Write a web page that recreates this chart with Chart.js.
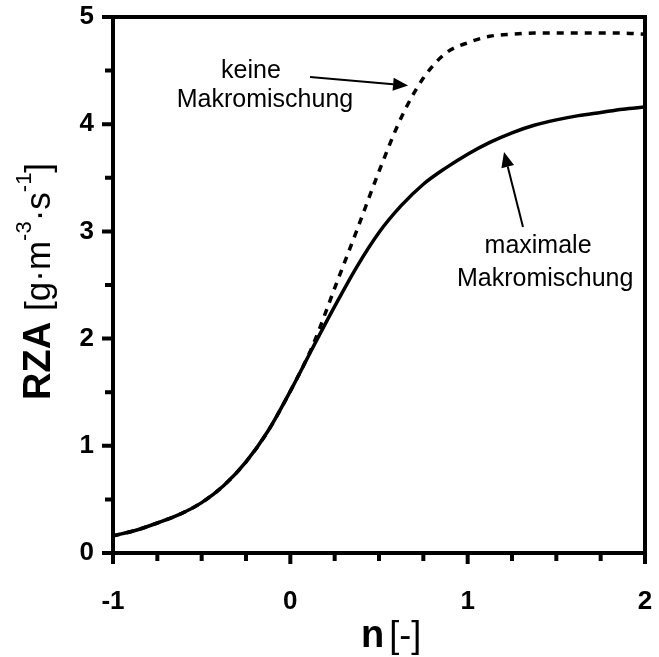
<!DOCTYPE html>
<html><head><meta charset="utf-8">
<script src="https://cdn.jsdelivr.net/npm/chart.js@4.4.0/dist/chart.umd.min.js"></script>
<style>html,body{margin:0;padding:0;background:#fff;overflow:hidden}</style>
</head><body>
<canvas id="c" width="659" height="657" style="display:block;width:659px;height:657px"></canvas>
<script>
// ---- data ----
const nValues      = [-1, -0.875, -0.75, -0.625, -0.5, -0.375, -0.25, -0.125, 0, 0.125, 0.25, 0.375, 0.5, 0.625, 0.75, 0.875, 1, 1.125, 1.25, 1.375, 1.5, 1.625, 1.75, 1.875, 2];
const rzaMaximale  = [0.16, 0.21, 0.28, 0.36, 0.47, 0.63, 0.85, 1.14, 1.51, 1.91, 2.30, 2.67, 2.99, 3.24, 3.44, 3.59, 3.72, 3.83, 3.92, 3.99, 4.04, 4.08, 4.11, 4.14, 4.16];
const rzaKeine     = [0.16, 0.21, 0.28, 0.36, 0.47, 0.63, 0.85, 1.14, 1.51, 1.93, 2.47, 3.01, 3.56, 4.06, 4.43, 4.66, 4.76, 4.82, 4.84, 4.85, 4.85, 4.85, 4.85, 4.85, 4.84];
const xTickLabels  = [-1, 0, 1, 2];
const yTickLabels  = [0, 1, 2, 3, 4, 5];
const annotationTexts = [
  {text: 'keine', x: -0.222, y: 4.43},
  {text: 'Makromischung', x: -0.143, y: 4.16},
  {text: 'maximale', x: 1.397, y: 2.80},
  {text: 'Makromischung', x: 1.437, y: 2.49}
];
const annotationArrows = [
  {from: [0.111, 4.44], to: [0.664, 4.36]},
  {from: [1.312, 3.04], to: [1.205, 3.74]}
];

const FONT = '"Liberation Sans", Arial, Helvetica, sans-serif';
const pts = (ys) => nValues.map((x, i) => ({x, y: ys[i]}));

const framePlugin = {
  id: 'frame',
  afterDraw(chart) {
    const {ctx, chartArea: a, scales} = chart;
    const xs = scales.x, ys = scales.y;
    ctx.save();
    ctx.strokeStyle = '#000';
    ctx.fillStyle = '#000';
    ctx.lineCap = 'butt';
    ctx.lineWidth = 4;
    ctx.strokeRect(a.left, a.top, a.right - a.left, a.bottom - a.top);
    ctx.beginPath();
    xs.ticks.forEach(t => {
      const px = xs.getPixelForValue(t.value);
      const len = xTickLabels.includes(t.value) ? 11 : 8;
      ctx.moveTo(px, a.bottom); ctx.lineTo(px, a.bottom + len);
    });
    ys.ticks.forEach(t => {
      const py = ys.getPixelForValue(t.value);
      const len = yTickLabels.includes(t.value) ? 11 : 8;
      ctx.moveTo(a.left, py); ctx.lineTo(a.left - len, py);
    });
    ctx.stroke();
    ctx.font = '25px ' + FONT;
    ctx.textAlign = 'center';
    ctx.textBaseline = 'alphabetic';
    annotationTexts.forEach(t => {
      ctx.fillText(t.text, xs.getPixelForValue(t.x), ys.getPixelForValue(t.y));
    });
    annotationArrows.forEach(ar => {
      const x0 = xs.getPixelForValue(ar.from[0]), y0 = ys.getPixelForValue(ar.from[1]);
      const x1 = xs.getPixelForValue(ar.to[0]), y1 = ys.getPixelForValue(ar.to[1]);
      const ang = Math.atan2(y1 - y0, x1 - x0);
      const hl = 15, hw = 6.5;
      const bx = x1 - hl * Math.cos(ang), by = y1 - hl * Math.sin(ang);
      ctx.lineWidth = 2;
      ctx.beginPath(); ctx.moveTo(x0, y0); ctx.lineTo(bx, by); ctx.stroke();
      ctx.beginPath();
      ctx.moveTo(x1, y1);
      ctx.lineTo(bx + hw * Math.sin(ang), by - hw * Math.cos(ang));
      ctx.lineTo(bx - hw * Math.sin(ang), by + hw * Math.cos(ang));
      ctx.closePath(); ctx.fill();
    });
    ctx.textAlign = 'left';
    let xx = a.left + 248, yb = a.bottom + 94;
    ctx.font = 'bold 38px ' + FONT;
    ctx.fillText('n', xx, yb);
    xx += ctx.measureText('n').width + 5;
    ctx.font = '36px ' + FONT;
    ctx.fillText('[-]', xx, yb);
    ctx.translate(50, 400);
    ctx.rotate(-Math.PI / 2);
    let p = 0;
    const seg = (txt, font, dy) => { ctx.font = font; ctx.fillText(txt, p, dy); p += ctx.measureText(txt).width; };
    seg('RZA', 'bold 38px ' + FONT, 0);
    p += 11;
    const nf = '35px ' + FONT, sf = '22px ' + FONT;
    seg('[g\u00B7m', nf, 0);
    seg('-3', sf, -19);
    seg('\u00B7s', nf, 0);
    seg('-1', sf, -19);
    seg(']', nf, 0);
    ctx.restore();
  }
};

new Chart(document.getElementById('c'), {
  type: 'line',
  data: {
    datasets: [
      {label: 'maximale Makromischung', data: pts(rzaMaximale), borderColor: '#000', borderWidth: 3.5, pointRadius: 0, cubicInterpolationMode: 'monotone', fill: false},
      {label: 'keine Makromischung', data: pts(rzaKeine), borderColor: '#000', borderWidth: 3.5, borderDash: [7, 7], pointRadius: 0, cubicInterpolationMode: 'monotone', fill: false}
    ]
  },
  options: {
    responsive: false,
    animation: false,
    devicePixelRatio: 1,
    layout: {padding: {top: 17, right: 14, left: 0, bottom: 0}},
    plugins: {legend: {display: false}, tooltip: {enabled: false}},
    scales: {
      x: {
        type: 'linear', min: -1, max: 2,
        afterFit: s => { s.height = 104; s.paddingLeft = 0; s.paddingRight = 0; },
        grid: {display: true, drawOnChartArea: false, drawTicks: true, tickLength: 11, color: 'rgba(0,0,0,0)'},
        border: {display: false},
        ticks: {stepSize: 0.25, autoSkip: false, maxRotation: 0, padding: 22, color: '#000',
          font: {family: FONT, size: 26, weight: 'bold'},
          callback: v => xTickLabels.includes(v) ? String(v) : ''}
      },
      y: {
        type: 'linear', min: 0, max: 5,
        afterFit: s => { s.width = 113; s.paddingTop = 0; s.paddingBottom = 0; },
        grid: {display: true, drawOnChartArea: false, drawTicks: true, tickLength: 11, color: 'rgba(0,0,0,0)'},
        border: {display: false},
        ticks: {stepSize: 0.5, autoSkip: false, padding: 8, color: '#000',
          font: {family: FONT, size: 26, weight: 'bold'},
          callback: v => yTickLabels.includes(v) ? String(v) : ''}
      }
    }
  },
  plugins: [framePlugin]
});
</script>
</body></html>
